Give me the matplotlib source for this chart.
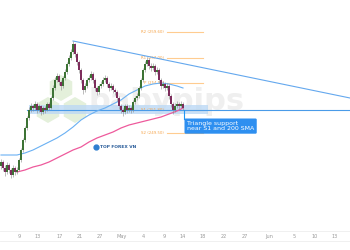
import numpy as np
import matplotlib
matplotlib.use("Agg")
import matplotlib.pyplot as plt
import matplotlib.patches as mpatches
from matplotlib.lines import Line2D
from matplotlib.transforms import IdentityTransform

# candle data (one bar per step), open = previous close
first_open = 246.2
closes = [246.6, 246.0, 245.6, 246.3, 245.8, 245.3, 246.0, 245.6, 245.8, 246.8,
          247.8, 248.8, 250.0, 251.0, 251.8, 252.2, 252.0, 252.4, 251.8, 252.2,
          251.6, 252.0, 251.8, 252.4, 252.0, 253.0, 254.0, 254.8, 255.2, 254.6,
          254.2, 255.0, 255.6, 256.4, 257.0, 257.6, 258.4, 257.4, 256.6, 255.8,
          254.8, 253.8, 254.2, 254.8, 255.0, 255.4, 254.8, 254.0, 253.6, 254.2,
          254.4, 254.8, 255.0, 254.4, 254.0, 254.2, 253.8, 253.6, 253.0, 252.2,
          251.8, 251.6, 252.2, 251.8, 252.0, 251.8, 252.6, 253.0, 253.2, 254.0,
          254.8, 255.8, 256.4, 256.8, 256.2, 256.0, 256.2, 255.6, 255.8, 254.8,
          254.2, 254.4, 254.0, 254.2, 253.2, 252.4, 251.8, 252.2, 252.4, 252.2,
          252.4, 252.0]
highs = [246.9, 246.8, 246.3, 246.6, 246.5, 246.0, 246.3, 246.2, 246.1, 247.0,
         248.0, 249.0, 250.2, 251.2, 252.1, 252.5, 252.4, 252.7, 252.6, 252.4,
         252.3, 252.2, 252.2, 252.6, 252.6, 253.2, 254.3, 255.1, 255.5, 255.4,
         254.8, 255.2, 255.9, 256.6, 257.3, 257.9, 258.7, 258.5, 257.6, 256.8,
         256.0, 255.0, 254.5, 255.0, 255.3, 255.7, 255.6, 255.0, 254.2, 254.4,
         254.7, 255.1, 255.3, 255.2, 254.6, 254.5, 254.4, 254.0, 253.8, 253.2,
         252.4, 252.0, 252.4, 252.4, 252.3, 252.2, 252.8, 253.2, 253.5, 254.2,
         255.0, 256.0, 256.7, 257.1, 257.0, 256.5, 256.5, 256.4, 256.1, 256.0,
         255.0, 254.7, 254.6, 254.5, 254.4, 253.4, 252.6, 252.5, 252.7, 252.6,
         252.7, 252.6]
lows = [245.9, 245.7, 245.2, 245.4, 245.5, 245.0, 245.1, 245.3, 245.4, 245.7,
        246.6, 247.6, 248.6, 249.8, 250.8, 251.6, 251.7, 251.8, 251.5, 251.6,
        251.3, 251.4, 251.5, 251.7, 251.8, 251.9, 252.8, 253.8, 254.6, 254.3,
        253.8, 254.0, 254.8, 255.4, 256.2, 256.8, 257.4, 257.1, 256.3, 255.5,
        254.5, 253.4, 253.6, 254.0, 254.6, 254.8, 254.5, 253.7, 253.3, 253.4,
        254.0, 254.2, 254.6, 254.1, 253.7, 253.8, 253.5, 253.3, 252.7, 251.9,
        251.5, 251.2, 251.4, 251.5, 251.6, 251.5, 251.6, 252.4, 252.8, 253.0,
        253.8, 254.6, 255.6, 256.2, 255.9, 255.7, 255.8, 255.3, 255.4, 254.5,
        253.9, 254.0, 253.7, 253.8, 252.9, 252.1, 251.4, 251.6, 252.0, 251.9,
        252.0, 251.8]

# moving averages, sampled every few bars
sma_blue_x = [0, 4, 8, 12, 16, 20, 24, 28, 32, 36, 40, 44, 48, 52, 56, 60, 64,
              68, 72, 76, 80, 84, 88, 91]
sma_blue = [247.3, 247.3, 247.3, 247.5, 247.8, 248.2, 248.6, 249.0, 249.5, 250.1,
            250.8, 251.3, 251.7, 252.0, 252.4, 252.8, 253.4, 253.8, 254.2, 254.4,
            254.5, 254.4, 254.2, 254.0]
sma_pink_x = [8, 12, 16, 20, 24, 28, 32, 36, 40, 44, 48, 52, 56, 60, 64, 68, 72,
              76, 80, 84, 88, 91]
sma_pink = [245.6, 245.8, 246.1, 246.3, 246.6, 247.0, 247.4, 247.8, 248.1, 248.6,
            249.0, 249.3, 249.6, 250.0, 250.3, 250.5, 250.7, 250.9, 251.1, 251.4,
            251.7, 252.0]

# drawings
trend_x = [36, 174.5]
trend_y = [258.7, 253.0]
support_level = 251.8
support_start = 13
band_x = [14, 103.5]
band_y = [251.4, 252.3]
pivot_names = ["R2", "R1", "P", "S1", "S2"]
pivot_levels = [259.6, 257.0, 254.5, 251.8, 249.5]
pivot_x = [83, 101]

tick_pos = [9, 18.5, 29.5, 39.5, 49.5, 60.5, 71, 81.5, 91, 101, 111.5, 122, 134,
            146.5, 157, 167]
tick_labels = ["9", "13", "17", "21", "27", "May", "4", "9", "14", "18", "22",
               "27", "Jun", "5", "10", "13"]

UP = "#3d7335"
DOWN = "#7d2d5c"
WICK = "#8a8a8a"

fig = plt.figure(figsize=(3.5, 2.5), dpi=100)
ax = fig.add_axes([0, 19 / 250, 1, 231 / 250])
ax.set_xlim(-0.5, 174.5)
ax.set_ylim(239.7, 262.8)

# watermark hexagons and text
for cx, cy in [(61, 88), (48, 110), (75, 110)]:
    ax.add_patch(mpatches.RegularPolygon((cx, 250 - cy), 6, radius=13,
                                         transform=IdentityTransform(),
                                         facecolor="#e4f0db", edgecolor="none",
                                         zorder=0))
ax.text(83, 252.6, "babypips", fontsize=22, fontweight="bold", color="#efefef",
        ha="center", va="center", zorder=0)

# support band and line
ax.fill_between(band_x, band_y[0], band_y[1], color="#bcd9f5", alpha=0.8,
                lw=0, zorder=1)
ax.plot([support_start, 174.5], [support_level, support_level], color="#4a9be8",
        lw=0.8, zorder=2)

# triangle upper line
ax.plot(trend_x, trend_y, color="#64a8ee", lw=0.8, zorder=2)

# pivot levels
for name, lvl in zip(pivot_names, pivot_levels):
    ax.plot(pivot_x, [lvl, lvl], color="#ffcc90", lw=0.8, zorder=1.5)
    ax.text(pivot_x[0] - 1.5, lvl, f"{name} ({lvl:.2f})", fontsize=2.8,
            color="#f5a44a", ha="right", va="center", zorder=1.5)

# moving averages
ax.plot(sma_blue_x, sma_blue, color="#6ab0f3", lw=0.8, zorder=2)
ax.plot(sma_pink_x, sma_pink, color="#ee5a9c", lw=0.9, zorder=2)

# candles
closes = np.array(closes)
opens = np.concatenate([[first_open], closes[:-1]])
xs = np.arange(len(closes))
colors = [UP if c >= o else DOWN for o, c in zip(opens, closes)]
ax.vlines(xs, lows, highs, color=WICK, lw=0.4, zorder=3)
heights = np.where(np.abs(closes - opens) < 0.05, 0.05, closes - opens)
ax.bar(xs, heights, bottom=opens, width=0.8, color=colors, lw=0, zorder=4)

# TOP FOREX VN logo
ax.plot(47.5, 248.1, marker="o", ms=3.5, color="#2f7fd0", zorder=2)
ax.text(49.5, 248.1, "TOP FOREX VN", fontsize=3.2, fontweight="bold",
        color="#2a5d9a", va="center", ha="left", zorder=2)

# annotation
ax.plot([91.5, 91.5], [251.8, 250.9], color="#2196f3", lw=0.8, zorder=5)
ax.text(93, 250.7, "Triangle support\nnear S1 and 200 SMA", fontsize=4.5,
        color="white", ha="left", va="top", linespacing=1.05, zorder=6,
        bbox=dict(boxstyle="round,pad=0.4,rounding_size=0.2",
                  facecolor="#2e8ff0", edgecolor="none"))

# axes styling
for side in ["top", "left", "right"]:
    ax.spines[side].set_visible(False)
ax.spines["bottom"].set_color("#eeeeee")
ax.spines["bottom"].set_linewidth(0.6)
ax.set_yticks([])
ax.set_xticks(tick_pos)
ax.set_xticklabels(tick_labels, fontsize=3.6, color="#999999")
ax.tick_params(axis="x", length=0, pad=2.5)
fig.add_artist(Line2D([0, 1], [9 / 250, 9 / 250], color="#eeeeee", lw=0.6))

fig.savefig("out.png", dpi=100)
